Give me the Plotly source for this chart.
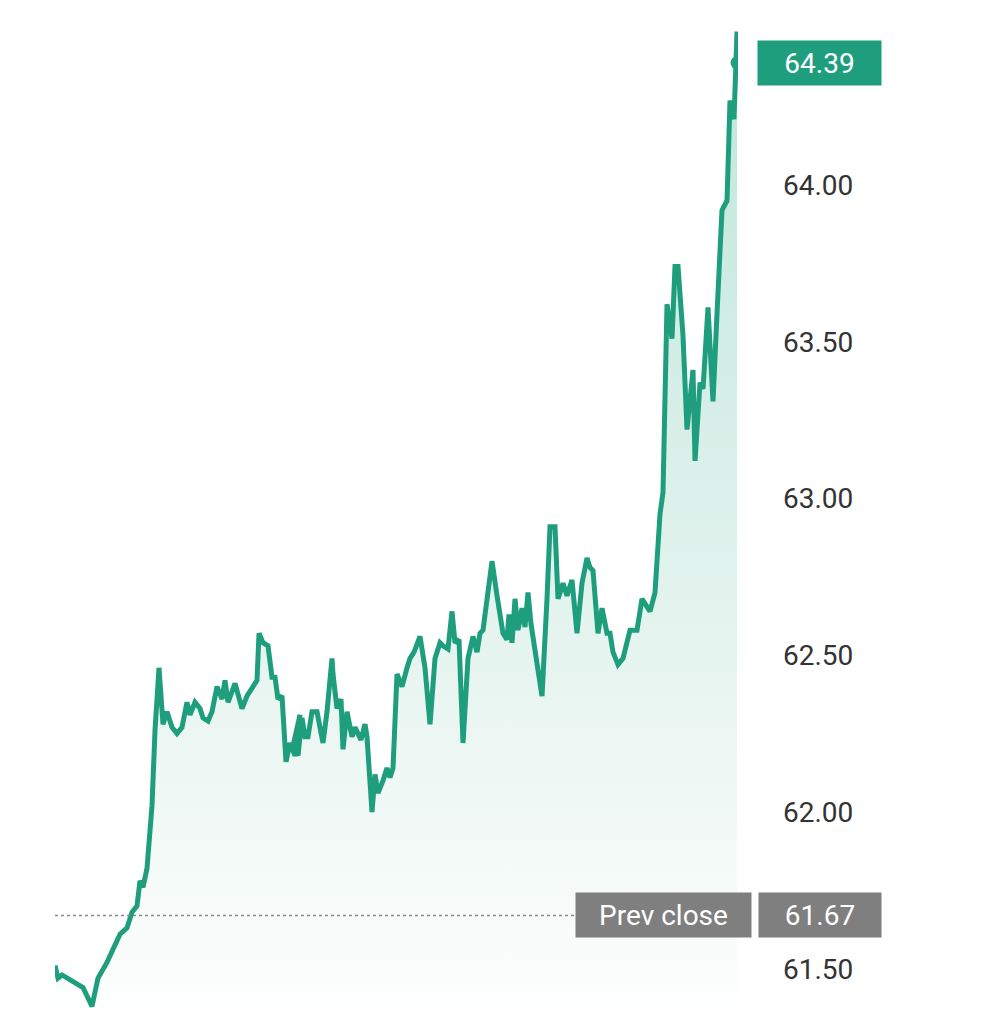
import plotly.graph_objects as go

# minutes since session open (approximate) and prices
minutes = [0, 3, 7, 28, 37, 43, 52, 65, 72, 77, 82, 85, 88, 92, 97, 100, 104, 108, 112, 117,
           122, 127, 132, 135, 140, 145, 148, 153, 157, 162, 167, 170, 173, 180, 187, 192, 198, 202,
           204, 208, 213, 217, 220, 223, 227, 231, 235, 240, 245, 238, 243, 247, 250, 253, 257, 262,
           268, 272, 277, 278, 282, 286, 288, 292, 297, 300, 306, 310, 312, 317, 320, 323, 328, 332,
           335, 338, 342, 347, 352, 355, 359, 365, 370, 375, 380, 385, 388, 393, 397, 400, 404, 408,
           413, 418, 422, 425, 428, 433, 437, 442, 445, 448, 452, 454, 457, 460, 463, 467, 470, 473,
           476, 483, 487, 492, 495, 500, 503, 508, 512, 517, 522, 527, 532, 535, 538, 543, 547, 552,
           555, 558, 563, 568, 575, 582, 587, 595, 600, 605, 608, 612, 617, 620, 623, 628, 632, 638,
           640, 645, 648, 653, 658, 662, 667, 672, 675, 679, 682]
prices = [61.51, 61.47, 61.48, 61.44, 61.38, 61.47, 61.52, 61.61, 61.63, 61.68, 61.70, 61.78,
          61.76, 61.82, 62.02, 62.26, 62.46, 62.28, 62.32, 62.27, 62.25, 62.27, 62.35, 62.31, 62.35,
          62.33, 62.30, 62.29, 62.32, 62.40, 62.36, 62.42, 62.35, 62.41, 62.33, 62.37, 62.40, 62.42,
          62.57, 62.54, 62.53, 62.43, 62.43, 62.36, 62.37, 62.16, 62.22, 62.18, 62.31, 62.21, 62.18,
          62.30, 62.24, 62.24, 62.32, 62.32, 62.22, 62.32, 62.49, 62.44, 62.33, 62.36, 62.20, 62.32,
          62.24, 62.27, 62.23, 62.28, 62.24, 62.00, 62.12, 62.06, 62.10, 62.14, 62.11, 62.14, 62.44,
          62.40, 62.46, 62.49, 62.51, 62.56, 62.46, 62.28, 62.49, 62.54, 62.53, 62.52, 62.64, 62.54,
          62.55, 62.22, 62.49, 62.56, 62.51, 62.57, 62.58, 62.70, 62.80, 62.69, 62.63, 62.57, 62.55,
          62.63, 62.54, 62.68, 62.58, 62.65, 62.59, 62.70, 62.60, 62.46, 62.37, 62.68, 62.91, 62.91,
          62.68, 62.73, 62.69, 62.74, 62.57, 62.73, 62.81, 62.78, 62.77, 62.57, 62.65, 62.57, 62.57,
          62.51, 62.47, 62.49, 62.58, 62.58, 62.68, 62.64, 62.70, 62.95, 63.02, 63.62, 63.51, 63.74,
          63.74, 63.52, 63.22, 63.41, 63.12, 63.37, 63.35, 63.61, 63.31, 63.59, 63.92, 63.95, 64.27,
          64.21, 64.49, 64.39]

prev_close = 61.67
last_price = 64.39
y_ticks = [61.50, 62.00, 62.50, 63.00, 63.50, 64.00]

Y_MIN, Y_MAX = 61.298, 64.565
LINE = "#1f9e7e"

fig = go.Figure()
# invisible baseline so the gradient fill spans only the visible range
fig.add_trace(go.Scatter(x=minutes, y=[Y_MIN] * len(minutes), mode="lines",
                         line=dict(width=0), hoverinfo="skip"))
fig.add_trace(go.Scatter(
    x=minutes, y=prices, mode="lines",
    line=dict(color=LINE, width=5),
    fill="tonexty",
    fillgradient=dict(type="vertical",
                      colorscale=[[0, "rgba(255,255,255,1)"], [0.35, "rgba(232,245,241,1)"],
                                  [1, "rgba(190,230,219,1)"]]),
    hoverinfo="skip",
))
fig.add_trace(go.Scatter(x=[minutes[-1]], y=[last_price], mode="markers",
                         marker=dict(color=LINE, size=13), hoverinfo="skip"))
fig.add_shape(type="line", xref="x", yref="y", x0=0, x1=520, y0=prev_close, y1=prev_close,
              line=dict(color="#888", width=1.5, dash="dot"))

# price badges
badge_font = dict(color="white", size=28, family="Roboto")
fig.add_annotation(x=1.0, xref="paper", xanchor="left", y=last_price, yref="y",
                   text="64.39", showarrow=False, xshift=19, bgcolor=LINE, borderpad=5,
                   font=badge_font, width=113, height=34, align="center")
fig.add_annotation(x=1.0, xref="paper", xanchor="left", y=prev_close, yref="y",
                   text="61.67", showarrow=False, xshift=20, bgcolor="#7f7f7f", borderpad=5,
                   font=badge_font, width=112, height=34, align="center")
fig.add_annotation(x=1.0, xref="paper", xanchor="right", y=prev_close, yref="y",
                   text="Prev close", showarrow=False, xshift=14, bgcolor="#7f7f7f", borderpad=5,
                   font=badge_font, width=165, height=34, align="center")

fig.update_layout(
    width=991, height=1024,
    margin=dict(l=47, r=261, t=0, b=0),
    paper_bgcolor="white", plot_bgcolor="white",
    showlegend=False,
    xaxis=dict(range=[0, 683], visible=False),
    yaxis=dict(range=[Y_MIN, Y_MAX], side="right", tickvals=y_ticks,
               ticktext=[f"{v:.2f}" for v in y_ticks], showgrid=False, zeroline=False,
               ticklabelstandoff=44, tickfont=dict(size=28, color="#333", family="Roboto")),
)

fig.write_html("out.html")
